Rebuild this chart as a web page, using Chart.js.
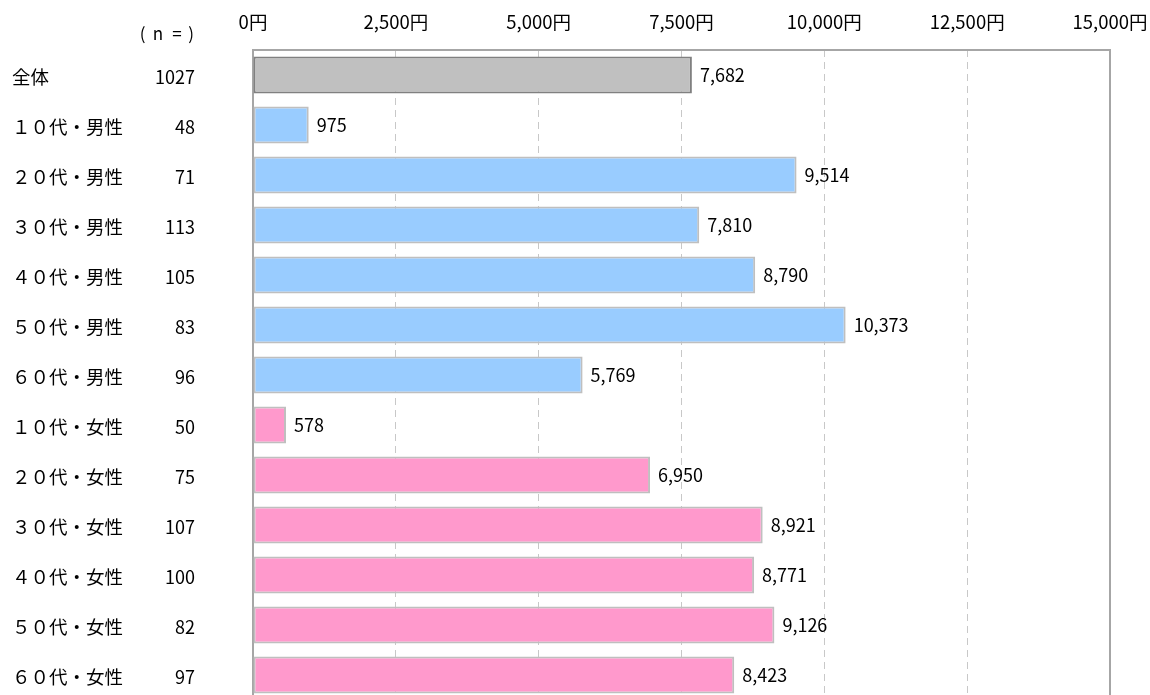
<!DOCTYPE html>
<html lang="ja">
<head>
<meta charset="utf-8">
<title>平均金額</title>
<script src="https://cdn.jsdelivr.net/npm/chart.js@4/dist/chart.umd.min.js"></script>
<style>
  html, body { margin: 0; padding: 0; background: #fff; overflow: hidden; }
  #wrap { width: 1150px; height: 700px; }
</style>
</head>
<body>
<div id="wrap"><canvas id="chart" width="1150" height="700"></canvas></div>
<script>
// 属性別の平均金額（円）
const categories = ['全体', '１０代・男性', '２０代・男性', '３０代・男性', '４０代・男性', '５０代・男性', '６０代・男性',
                    '１０代・女性', '２０代・女性', '３０代・女性', '４０代・女性', '５０代・女性', '６０代・女性'];
const sampleSizes = [1027, 48, 71, 113, 105, 83, 96, 50, 75, 107, 100, 82, 97];
const amounts = [7682, 975, 9514, 7810, 8790, 10373, 5769, 578, 6950, 8921, 8771, 9126, 8423];
const groups = ['all', 'male', 'male', 'male', 'male', 'male', 'male',
                'female', 'female', 'female', 'female', 'female', 'female'];
const axisMax = 15000;
const axisStep = 2500;

const FONT = '"Noto Sans CJK JP", "Noto Sans", sans-serif';
const fillColors = { all: '#c0c0c0', male: '#99ccff', female: '#ff99cc' };
const edgeColors = { all: '#808080', male: '#bfbfbf', female: '#bfbfbf' };

const fmt = v => v.toLocaleString('en-US');

// 左側のラベル・n数、バー右の数値、枠線
const sidePlugin = {
  id: 'sideLabels',
  beforeDatasetsDraw(chart) {
    const { ctx, chartArea: a } = chart;
    ctx.save();
    ctx.strokeStyle = '#a6a6a6';
    ctx.lineWidth = 2;
    ctx.beginPath();
    ctx.moveTo(a.left, a.bottom + 5);
    ctx.lineTo(a.left, a.top);
    ctx.lineTo(a.right, a.top);
    ctx.lineTo(a.right, a.bottom + 5);
    ctx.stroke();
    ctx.restore();
  },
  afterDatasetsDraw(chart) {
    const { ctx } = chart;
    const yScale = chart.scales.y;
    const meta = chart.getDatasetMeta(0);
    ctx.save();
    ctx.fillStyle = '#000';
    ctx.textBaseline = 'middle';

    // 見出し「(n=)」は文字ごとに間隔をあけて配置
    ctx.font = '17px ' + FONT;
    ctx.textAlign = 'center';
    [['(', 142.5], ['n', 158], ['=', 177], [')', 191]].forEach(([ch, x]) => ctx.fillText(ch, x, 34));

    categories.forEach((name, i) => {
      const y = yScale.getPixelForValue(i);
      ctx.font = '18.5px ' + FONT;
      ctx.textAlign = 'left';
      ctx.fillText(name, 12, y + 2);
      ctx.font = '18px ' + FONT;
      ctx.textAlign = 'right';
      ctx.fillText(String(sampleSizes[i]), 195, y + 2);
      ctx.textAlign = 'left';
      ctx.fillText(fmt(amounts[i]), meta.data[i].x + 8, y + 0.5);
    });
    ctx.restore();
  }
};

new Chart(document.getElementById('chart'), {
  type: 'bar',
  data: {
    labels: categories,
    datasets: [{
      data: amounts,
      backgroundColor: groups.map(g => fillColors[g]),
      borderColor: groups.map(g => edgeColors[g]),
      borderWidth: 2,
      borderSkipped: false,
      barPercentage: 0.74,
      categoryPercentage: 1
    }]
  },
  options: {
    indexAxis: 'y',
    responsive: false,
    animation: false,
    layout: { padding: { left: 253, right: 40, top: 0, bottom: 0 } },
    plugins: { legend: { display: false }, tooltip: { enabled: false } },
    scales: {
      x: {
        position: 'top',
        min: 0,
        max: axisMax,
        afterFit: s => {
          s.height = 50;
          s.paddingLeft = 0;
          s.paddingRight = 0;
        },
        ticks: {
          stepSize: axisStep,
          padding: 17,
          color: '#000',
          font: { family: FONT, size: 18.5 },
          callback: v => fmt(v) + '円'
        },
        grid: {
          drawTicks: false,
          lineWidth: 1,
          color: c => (c.tick && (c.tick.value === 0 || c.tick.value === axisMax)) ? 'rgba(0,0,0,0)' : '#c8c8c8'
        },
        border: { display: false, dash: [7, 5] }
      },
      y: {
        display: false
      }
    }
  },
  plugins: [sidePlugin]
});
</script>
</body>
</html>
